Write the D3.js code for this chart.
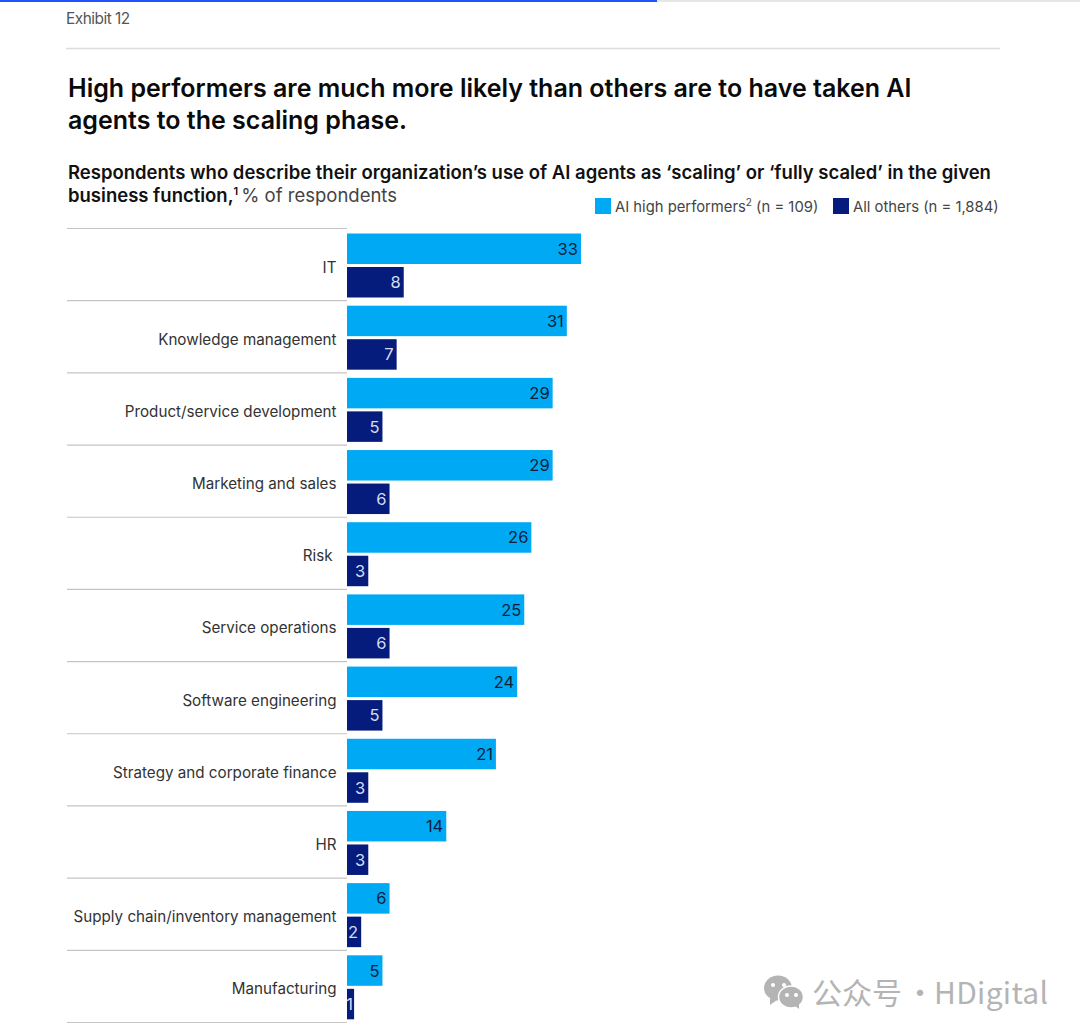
<!DOCTYPE html>
<html>
<head>
<meta charset="utf-8">
<script src="https://cdn.jsdelivr.net/npm/d3@7"></script>
<style>
  html, body { margin: 0; padding: 0; background: #fff; }
  svg { display: block; }
  text { font-family: Inter, "Noto Sans", sans-serif; }
</style>
</head>
<body>
<div id="chart"></div>
<script>
const categories = [
    'IT', 'Knowledge management', 'Product/service development', 'Marketing and sales',
    'Risk', 'Service operations', 'Software engineering', 'Strategy and corporate finance',
    'HR', 'Supply chain/inventory management', 'Manufacturing',
];
const highPerformers = [33, 31, 29, 29, 26, 25, 24, 21, 14, 6, 5];
const allOthers = [8, 7, 5, 6, 3, 6, 5, 3, 3, 2, 1];
const seriesNames = ['high', 'others'];
const seriesColors = { high: '#00a9f4', others: '#051c7c' };
const labelColors = { high: '#0b1f3a', others: '#d5dcf2' };
const titleLines = [
    'High performers are much more likely than others are to have taken AI',
    'agents to the scaling phase.',
];

const width = 1080;
const height = 1036;
const svg = d3.select('#chart').append('svg').attr('width', width).attr('height', height);

// top progress bar + header rule
svg.append('rect').attr('x', 0).attr('y', 0).attr('width', width).attr('height', 2).attr('fill', '#e6e6e6');
svg.append('rect').attr('x', 0).attr('y', 0).attr('width', 657).attr('height', 2).attr('fill', '#2251ff');
svg.append('line').attr('x1', 66).attr('x2', 1000).attr('y1', 48.5).attr('y2', 48.5)
    .attr('stroke', '#dcdcdc').attr('stroke-width', 1.5);

svg.append('text').attr('x', 66).attr('y', 23.5).attr('font-size', 15.4)
    .attr('letter-spacing', -0.5).attr('fill', '#555').text('Exhibit 12');

svg.selectAll('.title').data(titleLines).enter().append('text')
    .attr('class', 'title')
    .attr('x', 68).attr('y', (d, i) => 96.5 + i * 32)
    .attr('font-size', 25).attr('font-weight', 600).attr('fill', '#0a0a0a')
    .text((d) => d);

const sub1 = svg.append('text').attr('x', 68).attr('y', 178.5)
    .attr('font-size', 18.5).attr('font-weight', 600).attr('fill', '#111');
sub1.text('Respondents who describe their organization’s use of AI agents as ‘scaling’ or ‘fully scaled’ in the given');

const sub2 = svg.append('text').attr('x', 68).attr('y', 201.5).attr('font-size', 18.5).attr('fill', '#111');
sub2.append('tspan').attr('font-weight', 600).text('business function,');
sub2.append('tspan').attr('font-size', 11).attr('dy', -7).attr('font-weight', 600).text('1');
sub2.append('tspan').attr('dy', 7).attr('dx', 3).attr('fill', '#444').text('% of respondents');

// legend
const legendItems = [
    { key: 'high', x: 595, text: 'AI high performers', sup: '2', rest: ' (n = 109)' },
    { key: 'others', x: 833, text: 'All others (n = 1,884)' },
];
const legend = svg.selectAll('.legend').data(legendItems).enter().append('g')
    .attr('class', 'legend').attr('transform', (d) => `translate(${d.x},198)`);
legend.append('rect').attr('width', 16).attr('height', 16).attr('fill', (d) => seriesColors[d.key]);
const legendText = legend.append('text').attr('x', 20).attr('y', 14)
    .attr('font-size', 14.8).attr('fill', '#444');
legendText.append('tspan').text((d) => d.text);
legendText.filter((d) => d.sup).append('tspan').attr('font-size', 10).attr('dy', -6).text((d) => d.sup);
legendText.filter((d) => d.rest).append('tspan').attr('dy', 6).text((d) => d.rest);

// scales
const x = d3.scaleLinear().domain([0, 33]).range([347, 581]);
const y = d3.scaleBand().domain(categories).range([228.5, 1022.5]);
const ySeries = d3.scaleBand().domain(seriesNames).range([5, 69]).paddingInner(0.09);

const rows = svg.selectAll('.row').data(categories).enter().append('g')
    .attr('class', 'row').attr('transform', (d) => `translate(0,${y(d)})`);

rows.append('line').attr('x1', 67).attr('x2', 347).attr('y1', 0).attr('y2', 0)
    .attr('stroke', '#c4c4c4').attr('stroke-width', 1.2);
svg.append('line').attr('x1', 67).attr('x2', 347).attr('y1', 1022.5).attr('y2', 1022.5)
    .attr('stroke', '#c4c4c4').attr('stroke-width', 1.2);

rows.append('text').attr('x', (d) => (d === 'Risk' ? 332.5 : 336.5)).attr('y', y.bandwidth() / 2 + 8)
    .attr('text-anchor', 'end').attr('font-size', 15.2).attr('fill', '#333')
    .text((d) => d);

seriesNames.forEach((name) => {
    const values = name === 'high' ? highPerformers : allOthers;
    const group = rows.append('g').attr('transform', `translate(0,${ySeries(name)})`);
    group.append('rect')
        .attr('x', x(0)).attr('y', 0)
        .attr('width', (d, i) => x(values[i]) - x(0))
        .attr('height', ySeries.bandwidth())
        .attr('fill', seriesColors[name]);
    group.append('text')
        .attr('x', (d, i) => x(values[i]) - (values[i] === 1 ? 1 : 3))
        .attr('y', ySeries.bandwidth() / 2 + 6)
        .attr('text-anchor', 'end').attr('font-size', 16.5)
        .attr('fill', labelColors[name])
        .text((d, i) => values[i]);
});

// watermark
const mark = svg.append('g').attr('fill', '#b4b4b4');
mark.append('ellipse').attr('cx', 778).attr('cy', 988).attr('rx', 14).attr('ry', 12.5);
mark.append('path').attr('d', 'M770 998 l0 7 l7 -5 z');
mark.append('ellipse').attr('cx', 791).attr('cy', 997).attr('rx', 12.5).attr('ry', 11)
    .attr('stroke', '#fff').attr('stroke-width', 1.5);
mark.append('path').attr('d', 'M795 1006 l4 3 l0 -5 z');
[[773, 985], [784, 985], [787, 995], [796, 995]].forEach(([cx, cy]) => {
    mark.append('circle').attr('cx', cx).attr('cy', cy).attr('r', 2).attr('fill', '#fff');
});
const markText = mark.append('text').attr('y', 1004).attr('font-size', 30)
    .style('font-family', '"Noto Sans CJK SC"');
markText.append('tspan').attr('x', 812).text('公众号');
markText.append('tspan').attr('x', 905).text('·');
markText.append('tspan').attr('x', 934).attr('letter-spacing', 0.3).text('HDigital');
</script>
</body>
</html>
